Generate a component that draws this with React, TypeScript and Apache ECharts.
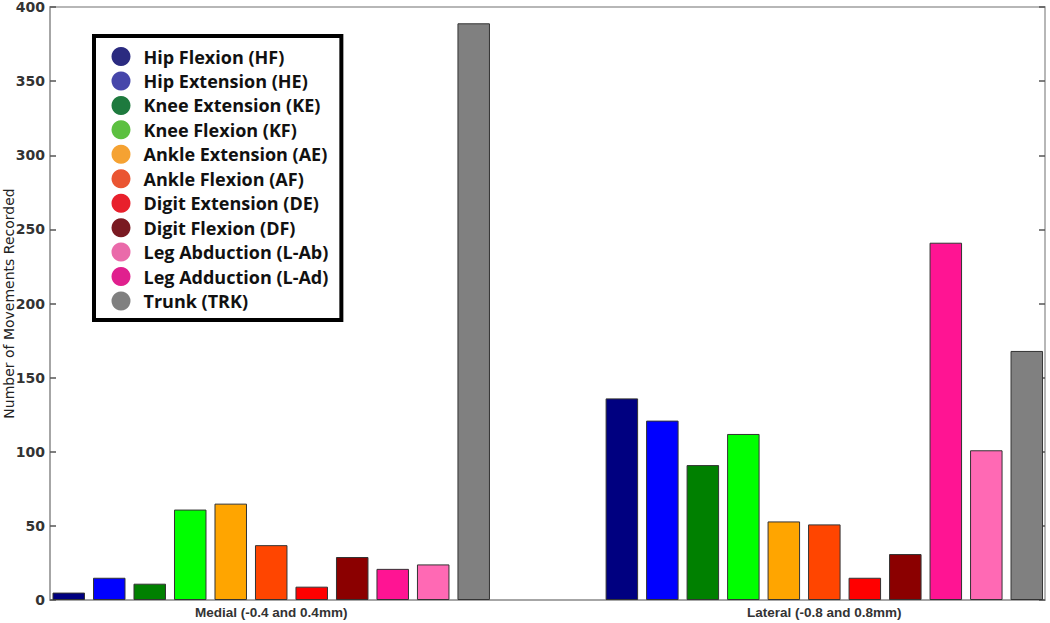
import React, { useEffect, useRef } from "react";
import * as echarts from "echarts";

const categories = ["Medial (-0.4 and 0.4mm)", "Lateral (-0.8 and 0.8mm)"];
const movementNames = [
  "Hip Flexion (HF)",
  "Hip Extension (HE)",
  "Knee Extension (KE)",
  "Knee Flexion (KF)",
  "Ankle Extension (AE)",
  "Ankle Flexion (AF)",
  "Digit Extension (DE)",
  "Digit Flexion (DF)",
  "Leg Adduction (L-Ad)",
  "Leg Abduction (L-Ab)",
  "Trunk (TRK)",
];
const medialCounts = [5, 15, 11, 61, 65, 37, 9, 29, 21, 24, 389];
const lateralCounts = [136, 121, 91, 112, 53, 51, 15, 31, 241, 101, 168];
const legendOrder = [
  "Hip Flexion (HF)",
  "Hip Extension (HE)",
  "Knee Extension (KE)",
  "Knee Flexion (KF)",
  "Ankle Extension (AE)",
  "Ankle Flexion (AF)",
  "Digit Extension (DE)",
  "Digit Flexion (DF)",
  "Leg Abduction (L-Ab)",
  "Leg Adduction (L-Ad)",
  "Trunk (TRK)",
];

const barColors = [
  "#000080", "#0000ff", "#008000", "#00ff00", "#ffa500", "#ff4500",
  "#ff0000", "#8b0000", "#ff1493", "#ff69b4", "#808080",
];
const legendColors: Record<string, string> = {
  "Hip Flexion (HF)": "#2b2b80",
  "Hip Extension (HE)": "#4646aa",
  "Knee Extension (KE)": "#1e7a3e",
  "Knee Flexion (KF)": "#5cc040",
  "Ankle Extension (AE)": "#f5a232",
  "Ankle Flexion (AF)": "#ea5532",
  "Digit Extension (DE)": "#e8202c",
  "Digit Flexion (DF)": "#7a1a22",
  "Leg Abduction (L-Ab)": "#ea6aaa",
  "Leg Adduction (L-Ad)": "#e0208e",
  "Trunk (TRK)": "#808080",
};

export default function App() {
  const ref = useRef<HTMLDivElement>(null);
  useEffect(() => {
    if (!ref.current) return;
    const chart = echarts.init(ref.current, undefined, { renderer: "svg" });
    const series = movementNames.map((name, i) => ({
      name,
      type: "bar",
      barWidth: 32.5,
      barGap: "24.6%",
      itemStyle: { color: barColors[i], borderColor: "#333", borderWidth: 1 },
      data: [
        [1, medialCounts[i]],
        [2, lateralCounts[i]],
      ],
    }));
    chart.setOption({
      animation: false,
      backgroundColor: "#fff",
      grid: {
        left: 50,
        right: 5,
        top: 7,
        bottom: 23,
        show: true,
        borderColor: "#a0a0a0",
        borderWidth: 1.5,
        outerBoundsMode: "none",
        containLabel: false,
      },
      legend: {
        orient: "vertical",
        left: 94,
        top: 36,
        padding: [11, 13, 9.5, 17.5],
        itemWidth: 19,
        itemHeight: 19,
        itemGap: 5.45,
        icon: "circle",
        borderColor: "#000",
        borderWidth: 4,
        backgroundColor: "#fff",
        textStyle: {
          fontFamily: "Open Sans",
          fontWeight: "bold",
          fontSize: 18,
          lineHeight: 19,
          color: "#111",
          padding: [0, 0, 0, 8],
        },
        data: legendOrder.map((n) => ({ name: n, itemStyle: { color: legendColors[n], borderWidth: 0 } })),
        selectedMode: false,
      },
      xAxis: {
        type: "value",
        min: 0.6,
        max: 2.399,
        splitLine: { show: false },
        axisLine: { show: true, lineStyle: { color: "#a0a0a0", width: 1.5 } },
        axisTick: { show: false },
        axisLabel: {
          customValues: [1, 2],
          formatter: (v: number) => categories[Math.round(v) - 1] ?? "",
          fontFamily: "Liberation Sans",
          fontWeight: "bold",
          fontSize: 13.5,
          color: "#333",
          margin: 5,
        },
      },
      yAxis: [
        {
          type: "value",
          min: 0,
          max: 400,
          interval: 50,
          name: "Number of Movements Recorded",
          nameLocation: "middle",
          nameGap: 34,
          nameMoveOverlap: false,
          nameTextStyle: { fontFamily: "DejaVu Sans", fontSize: 14, color: "#222" },
          splitLine: { show: false },
          axisLine: { show: true, lineStyle: { color: "#a0a0a0", width: 1.5 } },
          axisTick: { show: true, inside: true, length: 6, lineStyle: { color: "#555", width: 1.5 } },
          axisLabel: {
            fontFamily: "DejaVu Sans",
            fontWeight: "bold",
            fontSize: 14,
            color: "#333",
            margin: 5,
          },
        },
        {
          type: "value",
          min: 0,
          max: 400,
          interval: 50,
          position: "right",
          splitLine: { show: false },
          axisLine: { show: false },
          axisTick: { show: true, inside: true, length: 6, lineStyle: { color: "#555", width: 1.5 } },
          axisLabel: { show: false },
        },
      ],
      series,
    });
    return () => chart.dispose();
  }, []);
  return (
    <div
      ref={ref}
      style={{ position: "fixed", left: 0, top: 0, width: 1050, height: 623 }}
    />
  );
}
